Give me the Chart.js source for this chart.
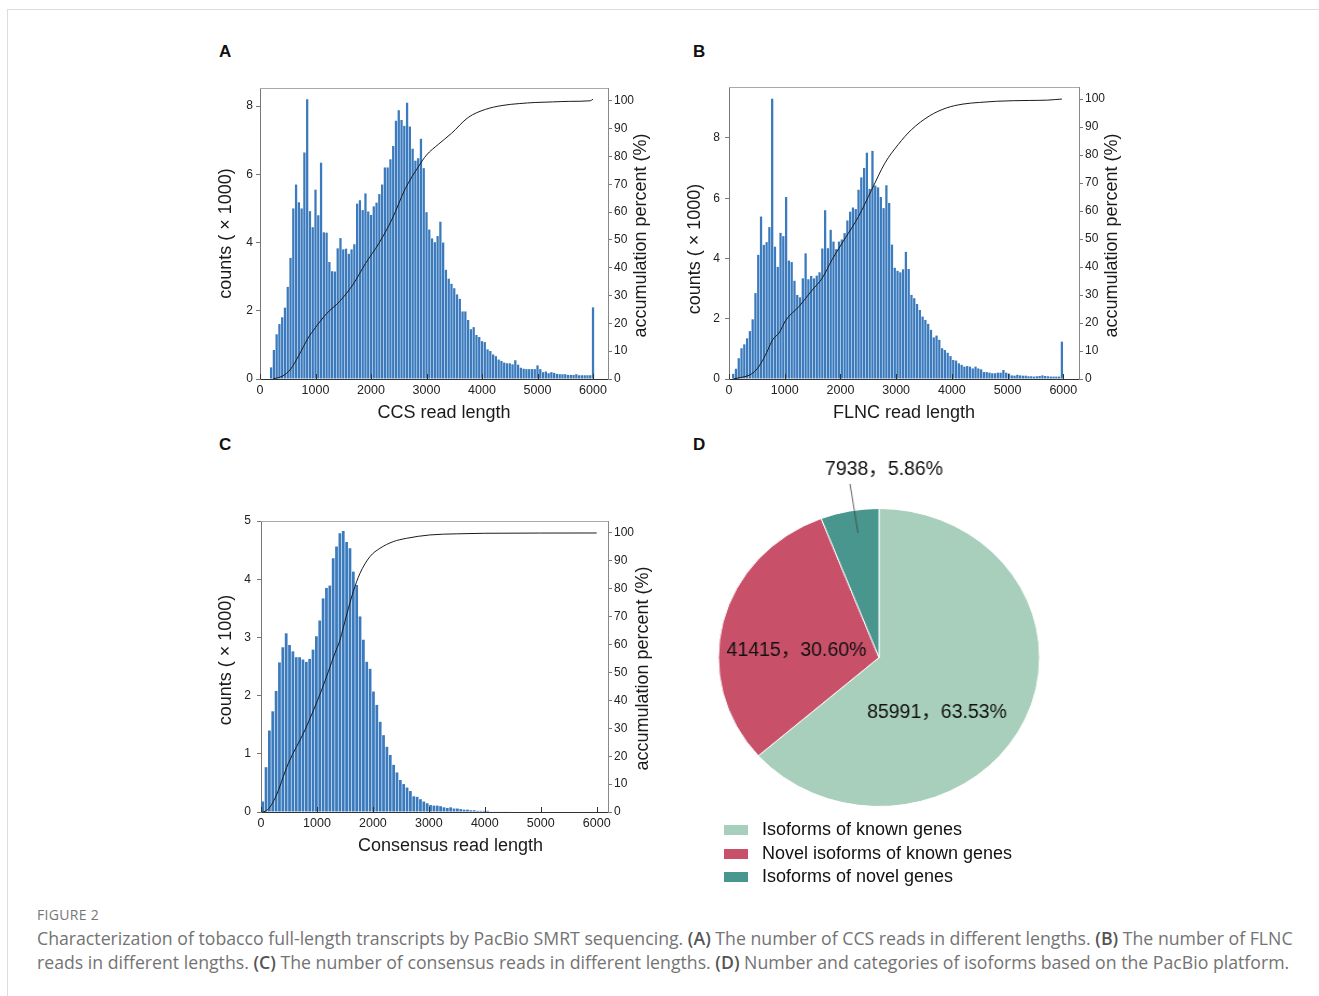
<!DOCTYPE html>
<html>
<head>
<meta charset="utf-8">
<script src="https://cdn.jsdelivr.net/npm/chart.js@4.4.1/dist/chart.umd.min.js"></script>
<style>
  body { margin: 0; width: 1319px; height: 996px; position: relative; overflow: hidden; background: #fff;
         font-family: "Liberation Sans", Arial, sans-serif; }
  .box { position: absolute; left: 7px; top: 9px; width: 1330px; height: 1000px; border-left: 1px solid #ddd; border-top: 1px solid #ddd; }
  canvas { position: absolute; }
  .tag { position: absolute; font-weight: bold; font-size: 17px; line-height: 17px; color: #111; }
  #legend { position: absolute; left: 724px; top: 818px; font-size: 18px; color: #111; }
  #legend div { height: 23.7px; line-height: 23.7px; white-space: nowrap; }
  #legend span { display: inline-block; width: 24px; height: 10px; margin-right: 14px; }
  .fig { position: absolute; left: 37px; top: 905px; font-family: "Open Sans", sans-serif; font-size: 14px; color: #777; letter-spacing: 0.3px; }
  .cap { position: absolute; left: 37px; top: 926px; font-family: "Open Sans", sans-serif; font-size: 17.7px; line-height: 24px; color: #737373; white-space: nowrap; }
  .cap b { color: #555; font-weight: 600; }
</style>
</head>
<body>
<div class="box"></div>
<div class="tag" style="left:219px;top:43px">A</div>
<div class="tag" style="left:693px;top:43px">B</div>
<div class="tag" style="left:219px;top:436px">C</div>
<div class="tag" style="left:693px;top:436px">D</div>

<canvas id="ccs" width="470" height="370" style="left:200px;top:60px"></canvas>
<canvas id="flnc" width="475" height="371" style="left:670px;top:59px"></canvas>
<canvas id="cons" width="470" height="370" style="left:200px;top:493px"></canvas>
<canvas id="pie" width="320" height="400" style="left:719px;top:447px;transform:scaleX(1.078);transform-origin:160px 0"></canvas>
<div id="legend"></div>

<div class="fig">FIGURE 2</div>
<div class="cap">Characterization of tobacco full-length transcripts by PacBio SMRT sequencing. <b>(A)</b> The number of CCS reads in different lengths. <b>(B)</b> The number of FLNC<br>reads in different lengths. <b>(C)</b> The number of consensus reads in different lengths. <b>(D)</b> Number and categories of isoforms based on the PacBio platform.</div>

<script>
// histogram bins (bin centre of the first bar, bin width)
const ccsStart = 200, ccsStep = 50;
const flncStart = 75, flncStep = 50;
const consStart = 30, consStep = 60;

// tick labels
const lengthTicks = [0, 1000, 2000, 3000, 4000, 5000, 6000];
const percentTicks = [0, 10, 20, 30, 40, 50, 60, 70, 80, 90, 100];
const countTicksAB = [0, 2, 4, 6, 8];
const countTicksC = [0, 1, 2, 3, 4, 5];

// counts (x 1000) per bin
const ccsCounts = [
  0.34, 0.85, 1.31, 1.61, 1.81, 2.09, 2.70, 3.55, 5.00, 5.70, 5.18, 5.00, 6.64, 8.20, 4.92, 4.45,
  5.55, 4.80, 6.34, 4.30, 4.29, 3.43, 3.16, 3.15, 3.83, 4.13, 3.80, 3.82, 3.67, 3.80, 3.95, 5.14,
  5.24, 4.95, 5.44, 4.91, 4.81, 5.06, 5.17, 5.42, 5.70, 6.20, 6.20, 6.44, 6.83, 7.57, 7.88, 7.59,
  7.42, 8.10, 7.40, 6.75, 6.40, 6.47, 7.04, 6.18, 4.89, 4.38, 4.12, 4.01, 4.19, 4.61, 4.00, 3.20,
  2.94, 2.79, 2.66, 2.48, 2.35, 1.98, 1.98,
  1.73, 1.46, 1.52, 1.29, 1.23, 1.11, 1.08, 0.87, 0.82, 0.72,
  0.67, 0.57, 0.53, 0.48, 0.46, 0.46, 0.43, 0.55, 0.42, 0.33,
  0.30, 0.29, 0.29, 0.29, 0.29, 0.40, 0.29, 0.20, 0.22, 0.17,
  0.20, 0.18, 0.15, 0.14, 0.14, 0.14, 0.12, 0.12, 0.12, 0.14,
  0.11, 0.11, 0.11, 0.11, 0.11, 2.10
];
const flncCounts = [
  0.17, 0.34, 0.69, 1.02, 1.15, 1.35, 1.59, 1.98, 2.85, 4.12,
  5.39, 4.45, 4.54, 5.04, 9.30, 4.39, 3.72, 4.85, 4.74, 6.04,
  3.93, 3.88, 3.26, 2.79, 2.71, 3.34, 4.17, 3.31, 3.42, 3.34,
  3.43, 3.54, 4.33, 5.60, 4.34, 4.95, 4.56, 4.31, 4.56, 4.63,
  4.84, 5.26, 5.55, 5.69, 5.64, 6.28, 6.69, 7.00, 7.51, 6.31,
  7.57, 6.42, 6.36, 6.04, 5.67, 6.43, 5.84,
  4.46, 3.69, 3.59, 3.54, 3.64, 4.22, 3.65, 2.79, 2.68, 2.49,
  2.29, 2.07, 1.96, 1.83, 1.63, 1.38, 1.44, 1.30, 1.02, 0.96,
  0.87, 0.76, 0.63, 0.61, 0.52, 0.47, 0.41, 0.43, 0.41, 0.35,
  0.41, 0.35, 0.32, 0.23, 0.23, 0.21, 0.19, 0.19, 0.21, 0.21,
  0.30, 0.21, 0.18, 0.12, 0.11, 0.14, 0.12, 0.11, 0.11, 0.09,
  0.09, 0.08, 0.09, 0.10, 0.12, 0.10, 0.09, 0.08, 0.08, 0.08,
  0.08, 1.24
];
const consCounts = [
  0.18, 0.77, 1.40, 1.73, 2.08, 2.57, 2.83, 3.07, 2.87, 2.76,
  2.66, 2.66, 2.62, 2.58, 2.63, 2.79, 3.02, 3.29, 3.67, 3.85,
  3.89, 4.36, 4.56, 4.79, 4.83, 4.64, 4.53, 4.13, 3.90, 3.36,
  2.96, 2.58, 2.46, 2.07, 1.84, 1.55, 1.32, 1.12, 0.98, 0.81,
  0.68, 0.55, 0.48, 0.42, 0.36, 0.27, 0.26, 0.22, 0.18, 0.15,
  0.12, 0.11, 0.11, 0.10, 0.08, 0.07, 0.08, 0.06, 0.06, 0.05,
  0.04, 0.04, 0.03, 0.03, 0.02, 0.02, 0.02, 0.02, 0.01, 0.01,
  0.01, 0.01, 0.01, 0.01
];

// accumulation curves (read length, percent)
const ccsCumLen = [230, 400, 550, 700, 863, 1000, 1200, 1430, 1670, 1900, 2140, 2380, 2620, 2860, 3000, 3210, 3450, 3750, 4060, 4360, 4670, 4970, 5270, 5580, 5950, 6000];
const ccsCumPct = [0, 1.0, 3.5, 8.5, 14.6, 18.5, 23.5, 27.8, 33.8, 41.5, 48.7, 57.5, 68.5, 76.5, 80.5, 84.3, 88.3, 94.0, 96.9, 98.3, 99.0, 99.4, 99.6, 99.8, 100.0, 100.6];
const flncCumLen = [75, 200, 367, 486, 600, 700, 782, 900, 1020, 1257, 1494, 1672, 1849, 2086, 2324, 2561, 2798, 3035, 3272, 3600, 3900, 4200, 4500, 4800, 5100, 5400, 5700, 5975];
const flncCumPct = [0, 0.5, 1.4, 3.2, 6.5, 10.5, 14.0, 16.5, 21.0, 25.9, 31.8, 36.0, 42.6, 50.3, 58.0, 67.6, 77.1, 83.7, 89.0, 94.0, 96.8, 98.2, 98.8, 99.2, 99.4, 99.5, 99.6, 100.0];
const consCumLen = [0, 100, 250, 488, 786, 1083, 1321, 1410, 1470, 1530, 1649, 1768, 1946, 2125, 2363, 2601, 3018, 3500, 4000, 6000];
const consCumPct = [0, 0.5, 4.9, 17.4, 29.4, 43.7, 56.9, 61.5, 66.0, 70.6, 79.0, 85.5, 91.5, 94.5, 96.9, 98.1, 99.3, 99.7, 99.9, 100.0];

// panel D
const isoformLabels = ['Isoforms of known genes', 'Novel isoforms of known genes', 'Isoforms of novel genes'];
const isoformCounts = [85991, 41415, 7938];
const isoformPcts = ['63.53%', '30.60%', '5.86%'];
const isoformColors = ['#a8cfbc', '#c85068', '#48968e'];

Chart.defaults.font.family = '"Liberation Sans", Arial, sans-serif';
Chart.defaults.font.size = 12;
Chart.defaults.color = '#222';

const TITLE_FONT = '18px "Liberation Sans", Arial, sans-serif';

// frame top line, inward x ticks and the three axis titles
const histFrame = {
  id: 'histFrame',
  afterDraw(chart, args, o) {
    const { ctx, chartArea: a, scales } = chart;
    ctx.save();
    ctx.lineWidth = 1;
    ctx.strokeStyle = '#aaa';
    ctx.beginPath();
    ctx.moveTo(a.left, Math.round(a.top) + 0.5);
    ctx.lineTo(a.right, Math.round(a.top) + 0.5);
    ctx.stroke();

    ctx.strokeStyle = '#333';
    scales.x.ticks.forEach(t => {
      const px = Math.round(scales.x.getPixelForValue(t.value)) + 0.5;
      ctx.beginPath();
      ctx.moveTo(px, a.bottom);
      ctx.lineTo(px, a.bottom - 5);
      ctx.stroke();
    });

    ctx.fillStyle = '#1a1a1a';
    ctx.font = TITLE_FONT;
    ctx.textAlign = 'center';
    ctx.textBaseline = 'middle';
    const midY = (a.top + a.bottom) / 2;
    ctx.fillText(o.xTitle, (a.left + a.right) / 2 + o.xDx, a.bottom + 34);

    ctx.save();
    ctx.translate(o.leftX, midY + o.leftDy);
    ctx.rotate(-Math.PI / 2);
    ctx.fillText('counts ( \u00d7 1000)', 0, 0);
    ctx.restore();

    ctx.save();
    ctx.translate(a.right + o.rightDx, midY + o.rightDy);
    ctx.rotate(-Math.PI / 2);
    ctx.fillText('accumulation percent (%)', 0, 0);
    ctx.restore();
    ctx.restore();
  }
};

const fixedTicks = values => s => { s.ticks = values.map(v => ({ value: v })); };
const plain = v => String(v);

function histogram(id, c) {
  const bars = c.counts.map((v, i) => ({ x: c.start + i * c.step, y: v }));
  const curve = c.cumLen.map((x, i) => ({ x, y: c.cumPct[i] }));
  return new Chart(document.getElementById(id), {
    type: 'bar',
    data: {
      datasets: [
        { type: 'line', data: curve, yAxisID: 'yR', borderColor: '#1a1a1a', borderWidth: 1,
          pointRadius: 0, cubicInterpolationMode: 'monotone', order: 0 },
        { type: 'bar', data: bars, yAxisID: 'y', backgroundColor: '#3a7abd',
          barPercentage: 0.82, categoryPercentage: 1, order: 1 }
      ]
    },
    options: {
      responsive: false, animation: false, events: [],
      layout: { padding: { top: 28 } },
      plugins: { legend: { display: false }, tooltip: { enabled: false }, histFrame: c.frame },
      scales: {
        x: {
          type: 'linear', min: 0, max: c.xMax, offset: false,
          ticks: { padding: 4, maxRotation: 0, autoSkip: false, font: { size: 12.5 }, callback: plain },
          afterBuildTicks: fixedTicks(lengthTicks),
          grid: { drawOnChartArea: false, drawTicks: false, offset: false },
          border: { display: true, color: '#333' },
          afterFit: s => { s.height = 51; }
        },
        y: {
          position: 'left', min: 0, max: c.yMax,
          ticks: { padding: c.lPad, autoSkip: false, callback: plain },
          afterBuildTicks: fixedTicks(c.yTicks),
          grid: { drawOnChartArea: false, tickLength: 4, color: '#777' },
          border: { color: '#777' },
          afterFit: s => { s.width = c.lw; }
        },
        yR: {
          position: 'right', min: 0, max: c.rMax,
          ticks: { padding: 2, autoSkip: false, callback: plain },
          afterBuildTicks: fixedTicks(percentTicks),
          grid: { drawOnChartArea: false, tickLength: 4, color: '#777' },
          border: { color: '#888' },
          afterFit: s => { s.width = c.rw; }
        }
      }
    },
    plugins: [histFrame]
  });
}

histogram('ccs', {
  start: ccsStart, step: ccsStep, counts: ccsCounts, cumLen: ccsCumLen, cumPct: ccsCumPct,
  xMax: 6270, yMax: 8.53, yTicks: countTicksAB, rMax: 104.6, lw: 60, rw: 62, lPad: 3,
  frame: { xTitle: 'CCS read length', xDx: 10, leftX: 26, leftDy: 0, rightDx: 33, rightDy: 2 }
});
histogram('flnc', {
  start: flncStart, step: flncStep, counts: flncCounts, cumLen: flncCumLen, cumPct: flncCumPct,
  xMax: 6282, yMax: 9.69, yTicks: countTicksAB, rMax: 104.3, lw: 59, rw: 66, lPad: 5,
  frame: { xTitle: 'FLNC read length', xDx: 0, leftX: 25, leftDy: 16, rightDx: 33, rightDy: 2.5 }
});
histogram('cons', {
  start: consStart, step: consStep, counts: consCounts, cumLen: consCumLen, cumPct: consCumPct,
  xMax: 6202, yMax: 5, yTicks: countTicksC, rMax: 104.3, lw: 61, rw: 62, lPad: 6,
  frame: { xTitle: 'Consensus read length', xDx: 16, leftX: 26, leftDy: -6.5, rightDx: 35, rightDy: 2 }
});

// pie: canvas is stretched by CSS, labels are drawn counter-scaled
const STRETCH = 1.078;
const pieLabels = {
  id: 'pieLabels',
  afterDraw(chart) {
    const ctx = chart.ctx;
    const arc = chart.getDatasetMeta(0).data[0];
    const cx = arc.x, cy = arc.y;
    const anchors = [[58, 55], [-82.5, -6.5], [5, -188]];
    ctx.save();
    ctx.strokeStyle = '#444';
    ctx.lineWidth = 0.8;
    ctx.beginPath();
    ctx.moveTo(cx - 29 / STRETCH, cy - 173.5);
    ctx.lineTo(cx - 21 / STRETCH, cy - 124.5);
    ctx.stroke();
    ctx.font = '19.5px "Liberation Sans", Arial, "Noto Sans CJK SC", sans-serif';
    ctx.fillStyle = '#111';
    ctx.textAlign = 'center';
    ctx.textBaseline = 'middle';
    isoformCounts.forEach((n, i) => {
      ctx.save();
      ctx.translate(cx + anchors[i][0] / STRETCH, cy + anchors[i][1]);
      ctx.scale(1 / STRETCH, 1);
      ctx.fillText(n + '\uff0c' + isoformPcts[i], 0, 0);
      ctx.restore();
    });
    ctx.restore();
  }
};

new Chart(document.getElementById('pie'), {
  type: 'pie',
  data: {
    labels: isoformLabels,
    datasets: [{ data: isoformCounts, backgroundColor: isoformColors, borderColor: '#fff', borderWidth: 1 }]
  },
  options: {
    responsive: false, animation: false, events: [], radius: 149,
    layout: { padding: { top: 21 } },
    plugins: { legend: { display: false }, tooltip: { enabled: false } }
  },
  plugins: [pieLabels]
});

document.getElementById('legend').innerHTML = isoformLabels
  .map((l, i) => `<div><span style="background:${isoformColors[i]}"></span>${l}</div>`).join('');
</script>
</body>
</html>
